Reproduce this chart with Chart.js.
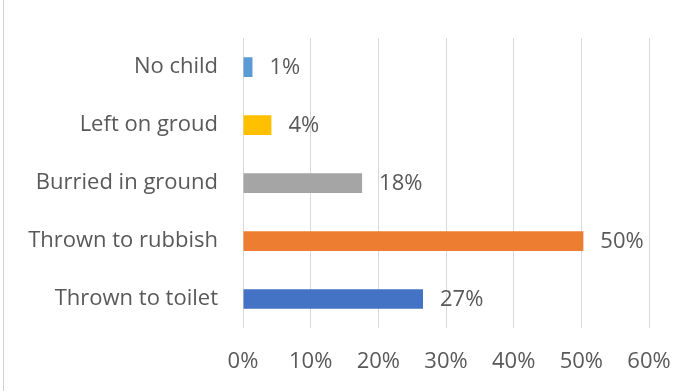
<!DOCTYPE html>
<html>
<head>
<meta charset="utf-8">
<script src="https://cdn.jsdelivr.net/npm/chart.js@4/dist/chart.umd.min.js"></script>
<style>
  body { margin: 0; background: #fff; }
  #wrap { position: relative; width: 695px; height: 391px; }
  #wrap:before { content: ''; position: absolute; left: 3px; top: 0; bottom: 0; border-left: 1px solid #d0d0d0; }
</style>
</head>
<body>
<div id="wrap"><canvas id="myChart" width="695" height="391"></canvas></div>
<script>
// disposal method vs share of answers (%)
var categories = ['No child', 'Left on groud', 'Burried in ground', 'Thrown to rubbish', 'Thrown to toilet'];
var values = [1.4, 4.2, 17.6, 50.3, 26.6];
var barColors = ['#5B9BD5', '#FFC000', '#A5A5A5', '#ED7D31', '#4472C4'];
var xTicks = [0, 10, 20, 30, 40, 50, 60];

var font = "'Open Sans', 'Liberation Sans', sans-serif";
var fontSize = 22;

// value labels to the right of each bar
var barLabels = {
  id: 'barLabels',
  afterDatasetsDraw: function(chart) {
    var ctx = chart.ctx;
    var meta = chart.getDatasetMeta(0);
    ctx.save();
    ctx.font = fontSize + 'px ' + font;
    ctx.fillStyle = '#595959';
    ctx.textAlign = 'left';
    ctx.textBaseline = 'middle';
    meta.data.forEach(function(bar, i) {
      ctx.fillText(Math.round(values[i]) + '%', bar.x + 17, bar.y + 1);
    });
    ctx.restore();
  }
};

var ctx = document.getElementById('myChart').getContext('2d');
var chart = new Chart(ctx, {
  type: 'bar',
  data: {
    labels: categories,
    datasets: [{
      data: values,
      backgroundColor: barColors,
      borderWidth: 0,
      barPercentage: 0.34,
      categoryPercentage: 1
    }]
  },
  options: {
    indexAxis: 'y',
    responsive: false,
    animation: false,
    layout: { padding: { top: 35, right: 46, left: 0, bottom: 0 } },
    plugins: { legend: { display: false }, tooltip: { enabled: false } },
    scales: {
      x: {
        min: 0,
        max: 60,
        afterBuildTicks: function(scale) {
          scale.ticks = xTicks.map(function(v) { return { value: v }; });
        },
        afterFit: function(scale) { scale.height = 63; },
        grid: { color: '#d9d9d9', lineWidth: 1, drawTicks: false },
        border: { display: false },
        ticks: {
          padding: 21,
          color: '#595959',
          font: { family: font, size: fontSize },
          callback: function(v) { return v + '%'; }
        }
      },
      y: {
        afterFit: function(scale) { scale.width = 243; },
        grid: { display: false, drawTicks: false },
        border: { display: false },
        ticks: {
          padding: 25,
          color: '#595959',
          font: { family: font, size: fontSize }
        }
      }
    }
  },
  plugins: [barLabels]
});
</script>
</body>
</html>
